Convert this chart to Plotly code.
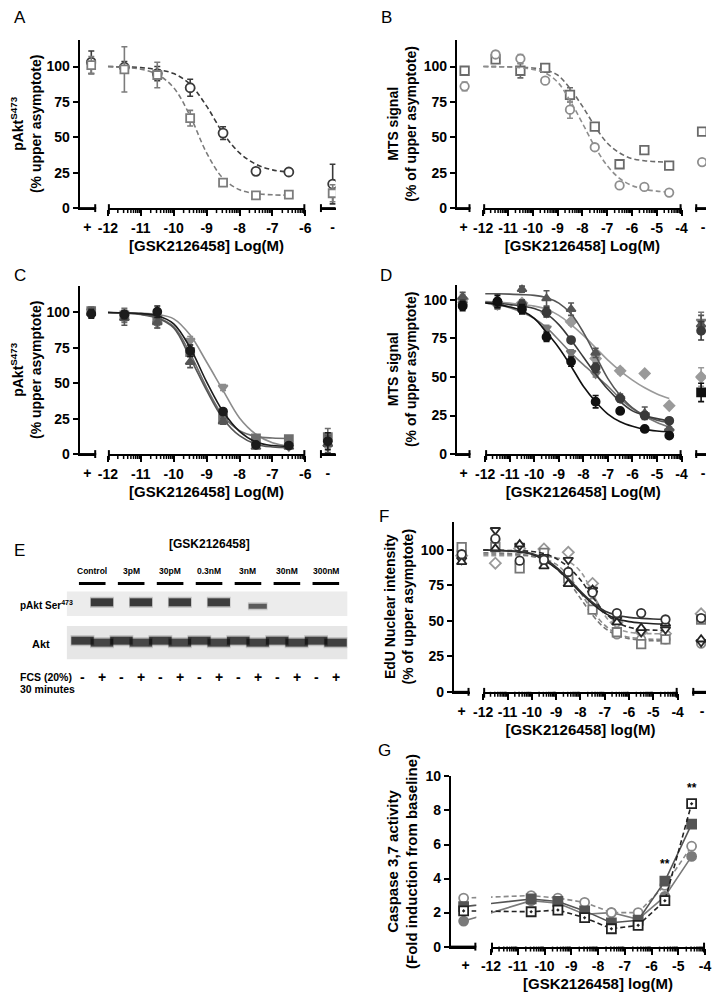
import math
import plotly.graph_objects as go

# the page adds an 8px body margin, so the figure is 704x984 inside a 720x1000 window
OFF = 8
FW, FH = 704, 984
FONT = "Liberation Sans, Arial, Helvetica, sans-serif"

# ---------------- data ----------------
# A : pAkt S473, two conditions
A_DOSE = [-11.5, -10.5, -9.5, -8.5, -7.5, -6.5]
A_CIRC = [99.5, 95, 85, 53, 26, 25.5]
A_CIRC_ERR = [4, 5, 6, 4.5, 1.5, 1]
A_CIRC_CTRL = [103, 17]          # "+" and "-" controls
A_CIRC_CTRL_ERR = [8, 14]
A_SQ = [98, 94, 63.5, 18, 9, 9.5]
A_SQ_ERR = [16, 9, 5.5, 1.5, 1, 1]
A_SQ_CTRL = [101, 10.5]
A_SQ_CTRL_ERR = [6, 6]
A_FIT_X = [-12, -11.5, -11, -10.5, -10, -9.5, -9, -8.5, -8, -7.5, -7, -6.5]
A_CIRC_FIT = [100, 99.7, 99.2, 97.8, 95, 87.5, 72, 53, 39, 31, 27, 25.5]
A_SQ_FIT = [100, 99.4, 98.1, 94.5, 85, 65, 39, 21, 13, 10.3, 9.4, 9.1]

# B : MTS signal, two conditions
B_DOSE = [-11.5, -10.5, -9.5, -8.5, -7.5, -6.5, -5.5, -4.5]
B_SQ = [105, 97, 99, 80, 57.5, 31, 41, 30]
B_SQ_ERR = [2, 5, 1, 5, 2, 1, 1, 1]
B_SQ_CTRL = [97, 54]
B_CIRC = [108.5, 105.5, 90, 69.5, 43, 16, 15, 11]
B_CIRC_ERR = [2, 3, 1, 6, 2, 1, 1, 1]
B_CIRC_CTRL = [86, 32.5]
B_CIRC_CTRL_ERR = [3, 1]
LONG_FIT_X = [-12, -11.5, -11, -10.5, -10, -9.5, -9, -8.5, -8, -7.5, -7, -6.5,
              -6, -5.5, -5, -4.5]
B_SQ_FIT = [100, 99.9, 99.8, 99.6, 99, 97.5, 94, 84.5, 72, 58, 46, 39, 35, 33.5, 32.8, 32.5]
B_CIRC_FIT = [100, 99.9, 99.7, 99.2, 98, 95.5, 89, 76, 60, 43.5, 30, 21, 16, 13.4, 12, 11.3]

# C : pAkt S473, four lines
C_DOSE = [-11.5, -10.5, -9.5, -8.5, -7.5, -6.5]
C1 = [98.5, 100.5, 73, 30, 6.5, 6]
C1_ERR = [3, 4, 4, 2, 1.5, 1]
C1_CTRL = [99, 9]
C2 = [98, 95, 72, 25, 11, 10.5]
C2_ERR = [5, 4, 3, 2, 1, 1]
C2_CTRL = [101, 12]
C3 = [96, 93, 65, 23, 5, 5]
C3_ERR = [5, 4, 4, 2, 1, 1]
C3_CTRL = [100, 7]
C4 = [97, 92, 80, 47, 7, 5]
C4_ERR = [3, 3, 3, 2, 1, 1]
C4_CTRL = [101, 5]
C_CTRL_ERR = [3, 6]
C1_FIT = [100, 99.7, 99.2, 97.7, 92, 75, 51, 30, 16, 8.5, 6, 5.5]
C2_FIT = [100, 99.6, 98.8, 96.5, 90, 71, 47, 27, 16.5, 12.5, 11.3, 11]
C3_FIT = [100, 99.5, 98.5, 96, 89, 68, 45, 25, 13, 7, 5, 4.5]
C4_FIT = [100, 99.8, 99.5, 98.5, 95.5, 84, 65, 45, 25.5, 14, 8, 5.8]

# D : MTS signal, five lines
D_DOSE = B_DOSE
D1 = [99, 94, 76, 60, 34, 28, 16.3, 12]
D1_ERR = [4, 3, 3, 3, 4, 1, 1, 1]
D1_CTRL = [96, 40]
D2 = [98, 97, 92, 74, 56, 36, 25, 21.6]
D2_ERR = [3, 3, 3, 2, 3, 2, 2, 1]
D2_CTRL = [97, 80]
D3 = [100, 107, 101, 94, 65.7, 37, 26.5, 16.5]
D3_ERR = [4, 2, 5, 4, 3, 2, 4, 1]
D3_CTRL = [102, 84]
D4 = [97, 98, 92, 85.8, 62, 54, 52.3, 31.4]
D4_ERR = [2, 2, 3, 2, 2, 2, 0, 0]
D4_CTRL = [100.6, 50]
D5 = [97, 95, 81.6, 65.7, 52, 36, 25.4, 14.8]
D5_ERR = [3, 3, 2, 2, 2, 2, 2, 1]
D5_CTRL = [97.5, 86]
D_CTRL_ERR = [3, 6]
D1_FIT = [98, 97, 95.5, 93, 88, 79, 69, 57, 44, 34, 26, 21, 18, 16, 15, 14.5]
D2_FIT = [98.5, 98, 97, 96, 94.5, 91, 84, 74, 63, 52, 42, 34, 28, 25, 23, 21.5]
D3_FIT = [104, 104, 103.8, 103.5, 103, 101.5, 98, 91, 79, 64, 49, 38, 30, 25, 22, 20.5]
D4_FIT = [99, 98.7, 98, 97, 96, 94, 90, 84, 77, 69, 61, 54, 48, 43, 39, 36]
D5_FIT = [98, 97, 95, 92, 88, 82, 74, 65.5, 58, 51, 44, 36, 29.5, 24.5, 20.5, 17.5]

# E : western blot
E_CONC = ["Control", "3pM", "30pM", "0.3nM", "3nM", "30nM", "300nM"]
E_FCS = ["-", "+", "-", "+", "-", "+", "-", "+", "-", "+", "-", "+", "-", "+"]
E_PAKT = [0, 1, 0, 1, 0, 0.98, 0, 0.95, 0, 0.7, 0, 0, 0, 0]
E_AKT = [0.95, 0.88, 0.95, 0.85, 0.92, 0.85, 0.92, 0.88, 0.9, 0.9, 0.9, 0.9, 0.9, 0.92]

# F : EdU nuclear intensity, six lines
F_DOSE = B_DOSE
F1 = [108, 92.5, 93, 84.5, 70, 55.5, 55.5, 51]
F1_CTRL = [97, 52]
F2 = [101, 104, 88.5, 76, 72, 49, 45, 48]
F2_CTRL = [91.5, 37]
F3 = [114, 103, 95, 93, 72, 51, 42, 44]
F3_CTRL = [93, 35]
F4 = [102, 87, 98, 80, 58, 42, 33.6, 37]
F4_CTRL = [102, 51]
F5 = [90.7, 101, 100.7, 98.4, 76.4, 49, 42, 41]
F5_CTRL = [96, 55]
F6 = [107, 91, 92, 80, 63, 40.5, 37, 37]
F6_CTRL = [99, 34]
F1_FIT = [100, 99.8, 99.5, 99, 97.5, 94, 88, 80, 71, 63, 57, 54, 52.5, 51.8, 51.4, 51.2]
F2_FIT = [100, 99.7, 99.3, 98.5, 97, 93, 87, 79, 70, 62, 55.5, 51.5, 49.5, 48.5, 48, 47.8]
F3_FIT = [100, 99.9, 99.7, 99.5, 99, 97.5, 94, 88, 79, 67, 56, 49, 45.5, 44, 43.5, 43.2]
F4_FIT = [98, 97.9, 97.6, 97, 95.5, 93, 87, 78, 66, 54, 45, 40, 37.5, 36.5, 36, 36]
F5_FIT = [96, 96, 96, 96, 96, 95.5, 94.5, 92, 85, 70, 54, 45, 42, 41.2, 41, 41]
F6_FIT = [97, 96.9, 96.8, 96.5, 96, 94, 90, 82, 70, 57, 47, 41, 38.5, 37.5, 37, 37]

# G : caspase 3/7 activity
G_DOSE = [-10.5, -9.5, -8.5, -7.5, -6.5, -5.5, -4.5]
G_OPEN_CIRC = [3.0, 2.85, 2.6, 2.0, 2.0, 3.6, 5.9]
G_FILL_CIRC = [2.7, 2.55, 1.9, 2.0, 1.6, 2.95, 5.3]
G_FILL_SQ = [2.8, 2.65, 2.1, 1.4, 1.55, 3.85, 7.2]
G_OPEN_SQ = [2.05, 2.15, 1.7, 1.05, 1.25, 2.7, 8.4]
G_CTRL = [2.85, 1.5, 2.35, 2.1]   # "+" control for the four series above
G_SIG_X = [-5.5, -4.5]
G_SIG_Y = [4.85, 9.3]
G_SIG_TXT = ["**", "**"]

# ---------------- figure helpers ----------------
fig = go.Figure()
layout = dict(width=FW, height=FH, margin=dict(l=0, r=0, t=0, b=0),
              paper_bgcolor="white", plot_bgcolor="rgba(0,0,0,0)", showlegend=False)
annotations = []
shapes = []
counter = {"x": 0, "y": 0}
TICK_FONT = dict(family=FONT, size=14, color="black", weight="bold")
LOG_MINOR = [math.log10(k) for k in range(2, 10)]


def fx(px):   # page pixel -> paper x
    return min(max((px - OFF) / FW, 0), 1)


def fy(py):   # page pixel -> paper y
    return min(max(1 - (py - OFF) / FH, 0), 1)


def new_id(kind):
    counter[kind] += 1
    return counter[kind]


def axkey(kind, n):
    return kind + "axis" + ("" if n == 1 else str(n))


def xstyle(**kw):
    d = dict(showline=True, linecolor="black", linewidth=2, ticks="outside", ticklen=5,
             tickwidth=2, tickcolor="black", tickfont=TICK_FONT, showgrid=False,
             zeroline=False, fixedrange=True)
    d.update(kw)
    return d


def seg_line(px0, px1, py0, py1, width):
    shapes.append(dict(type="line", xref="paper", yref="paper", x0=fx(px0), x1=fx(px1),
                       y0=fy(py0), y1=fy(py1), line=dict(color="black", width=width)))


def make_panel(geo, yticks, ytitle, xtitle, ytitle_size=14):
    yid = new_id("y")
    m0, m1 = geo["main"]
    lo, hi = geo["range"]
    ppu = (m1 - m0) / (hi - lo)
    ytop, ybot = geo["y"]

    def u(p):
        return lo + (p - m0) / ppu

    P = {"y": "y%d" % yid}
    # "+" segment (line and end tick drawn as shapes)
    xp = new_id("x")
    p0, p1 = geo["plus"]
    layout[axkey("x", xp)] = xstyle(
        domain=[fx(p0), fx(p1)], range=[u(p0), u(p1)], anchor="y%d" % yid,
        tickvals=[u(geo["plus_lab"])], ticktext=["+"], tickcolor="rgba(0,0,0,0)")
    seg_line(p0, p1, ybot, ybot, 2)
    seg_line(p1 - 1, p1 - 1, ybot - 4, ybot + 4, 2)
    P["plus"] = "x%d" % xp
    P["plus_x"] = u(geo["plus_dat"])
    # main log segment, minor log ticks drawn as shapes
    xm = new_id("x")
    layout[axkey("x", xm)] = xstyle(
        domain=[fx(m0), fx(m1)], range=[lo - 1e-3, hi + 1e-3], anchor="y%d" % yid,
        tickvals=list(range(lo, hi + 1)), ticktext=["%d" % v for v in range(lo, hi + 1)],
        ticklen=6,
        title=dict(text=xtitle, font=dict(family=FONT, size=15, color="black", weight="bold"),
                   standoff=6))
    for n in range(lo, hi):
        for l in LOG_MINOR:
            xpix = m0 + (n + l - lo) * ppu
            seg_line(xpix, xpix, ybot, ybot + 5, 1.5)
    seg_line(m0 + 1, m0 + 1, ybot - 4, ybot + 6, 2)
    seg_line(m1 - 1, m1 - 1, ybot - 4, ybot + 6, 2)
    P["main"] = "x%d" % xm
    # "-" segment, tick at its left end
    if "minus" in geo:
        xn = new_id("x")
        n0, n1 = geo["minus"]
        n1 = min(n1, OFF + FW)
        layout[axkey("x", xn)] = xstyle(
            domain=[fx(n0), fx(n1)], range=[u(n0), u(n1)], anchor="y%d" % yid,
            tickvals=[u(geo["minus_lab"])], ticktext=["-"], tickcolor="rgba(0,0,0,0)")
        seg_line(n0, n1, ybot, ybot, 2)
        seg_line(n0 + 1, n0 + 1, ybot - 4, ybot + 4, 2)
        P["minus"] = "x%d" % xn
        P["minus_x"] = u(geo["minus_dat"])
    layout[axkey("y", yid)] = dict(
        domain=[fy(ybot), fy(ytop)], range=[0, geo["ymax"]], anchor="x%d" % xp,
        showline=True, linecolor="black", linewidth=2, ticks="outside", ticklen=5,
        tickwidth=2, tickcolor="black", tickvals=yticks, tickfont=TICK_FONT,
        showgrid=False, zeroline=False, fixedrange=True,
        title=dict(text=ytitle, font=dict(family=FONT, size=ytitle_size, color="black",
                                          weight="bold"), standoff=4))
    annotations.append(dict(text=geo["letter"], x=fx(geo["lpos"][0]), y=fy(geo["lpos"][1]),
                            xref="paper", yref="paper", showarrow=False, xanchor="center",
                            yanchor="middle", font=dict(family=FONT, size=17, color="black")))
    return P


def marker(sty):
    return dict(symbol=sty["sym"], size=sty.get("size", 8),
                color=sty["col"] if sty.get("filled") else "white",
                line=dict(color=sty["col"], width=sty.get("lw", 1.8)))


def add_fit(P, fxs, fys, sty):
    fig.add_trace(go.Scatter(x=fxs, y=fys, mode="lines", xaxis=P["main"], yaxis=P["y"],
                             line=dict(color=sty.get("lcol", sty["col"]), width=1.6,
                                       dash=sty.get("dash", "solid"), shape="spline"),
                             hoverinfo="skip"))


def add_pts(P, seg, x, y, err, sty, sym=None):
    m = marker(sty)
    if sym:
        m["symbol"] = sym
    ey = dict(type="data", array=err, color=sty["col"], thickness=1.6, width=3,
              visible=err is not None)
    fig.add_trace(go.Scatter(x=x, y=y, mode="markers", xaxis=P[seg], yaxis=P["y"],
                             marker=m, error_y=ey, hoverinfo="skip"))


def add_series(P, dose, vals, err, ctrl, ctrl_err, fit_x, fit, sty):
    if fit is not None:
        add_fit(P, fit_x, fit, sty)
    add_pts(P, "main", dose, vals, err, sty)
    add_pts(P, "plus", [P["plus_x"]], [ctrl[0]],
            None if ctrl_err is None else [ctrl_err[0]], sty)
    if "minus" in P:
        add_pts(P, "minus", [P["minus_x"]], [ctrl[1]],
                None if ctrl_err is None else [ctrl_err[1]], sty, sty.get("msym"))


Y100 = [0, 25, 50, 75, 100]
T_PAKT = "pAkt<sup>S473</sup><br>(% upper asymptote)"
T_MTS = "MTS signal<br>(% of upper asymptote)"
X_LOG = "[GSK2126458] Log(M)"

# ---------------- A ----------------
PA = make_panel(dict(letter="A", lpos=(10, 10), y=(32, 203.3), ymax=119,
                     plus=(71, 88), plus_lab=79, plus_dat=83,
                     main=(100, 302), range=(-12, -6),
                     minus=(317, 333), minus_lab=330, minus_dat=330),
                Y100, T_PAKT, X_LOG)
add_series(PA, A_DOSE, A_CIRC, A_CIRC_ERR, A_CIRC_CTRL, A_CIRC_CTRL_ERR, A_FIT_X, A_CIRC_FIT,
           dict(sym="circle", col="#3a3a3a", size=9, dash="5px,3px"))
add_series(PA, A_DOSE, A_SQ, A_SQ_ERR, A_SQ_CTRL, A_SQ_CTRL_ERR, A_FIT_X, A_SQ_FIT,
           dict(sym="square", col="#7c7c7c", size=8, dash="5px,3px"))

# ---------------- B ----------------
PB = make_panel(dict(letter="B", lpos=(385, 10), y=(32, 203.3), ymax=119,
                     plus=(457, 471), plus_lab=464, plus_dat=465,
                     main=(484, 687), range=(-12, -4),
                     minus=(701, 722), minus_lab=709, minus_dat=708),
                Y100, T_MTS, X_LOG)
add_series(PB, B_DOSE, B_SQ, B_SQ_ERR, B_SQ_CTRL, None, LONG_FIT_X, B_SQ_FIT,
           dict(sym="square", col="#6a6a6a", size=8.5, dash="5px,3px"))
add_series(PB, B_DOSE, B_CIRC, B_CIRC_ERR, B_CIRC_CTRL, B_CIRC_CTRL_ERR, LONG_FIT_X, B_CIRC_FIT,
           dict(sym="circle", col="#8e8e8e", size=8.5, dash="5px,3px"))

# ---------------- C ----------------
PC = make_panel(dict(letter="C", lpos=(10, 272), y=(282, 453.3), ymax=119,
                     plus=(71, 88), plus_lab=79, plus_dat=83,
                     main=(100, 302), range=(-12, -6),
                     minus=(317, 333), minus_lab=325, minus_dat=325),
                Y100, T_PAKT, X_LOG)
for vals, err, ctrl, fit, sty in [
        (C4, C4_ERR, C4_CTRL, C4_FIT, dict(sym="triangle-down", col="#8c8c8c", filled=True)),
        (C2, C2_ERR, C2_CTRL, C2_FIT, dict(sym="square", col="#6e6e6e", filled=True)),
        (C3, C3_ERR, C3_CTRL, C3_FIT, dict(sym="triangle-up", col="#555555", filled=True)),
        (C1, C1_ERR, C1_CTRL, C1_FIT, dict(sym="circle", col="#1c1c1c", filled=True))]:
    add_series(PC, C_DOSE, vals, err, ctrl, C_CTRL_ERR, A_FIT_X, fit, sty)

# ---------------- D ----------------
PD = make_panel(dict(letter="D", lpos=(385, 272), y=(281, 453.3), ymax=110,
                     plus=(457, 471), plus_lab=464, plus_dat=463,
                     main=(486, 687), range=(-12, -4),
                     minus=(701, 722), minus_lab=709, minus_dat=707),
                Y100, T_MTS, X_LOG)
for vals, err, ctrl, fit, sty in [
        (D4, D4_ERR, D4_CTRL, D4_FIT, dict(sym="diamond", col="#9a9a9a", filled=True)),
        (D5, D5_ERR, D5_CTRL, D5_FIT, dict(sym="triangle-down", col="#777777", filled=True)),
        (D3, D3_ERR, D3_CTRL, D3_FIT, dict(sym="triangle-up", col="#555555", filled=True)),
        (D2, D2_ERR, D2_CTRL, D2_FIT, dict(sym="circle", col="#3a3a3a", filled=True)),
        (D1, D1_ERR, D1_CTRL, D1_FIT, dict(sym="circle", col="#111111", filled=True,
                                            msym="square"))]:
    add_series(PD, D_DOSE, vals, err, ctrl, D_CTRL_ERR, LONG_FIT_X, fit, sty)

# ---------------- F ----------------
PF = make_panel(dict(letter="F", lpos=(382, 517), y=(522, 695), ymax=120,
                     plus=(454, 470), plus_lab=462, plus_dat=462,
                     main=(484, 683), range=(-12, -4),
                     minus=(698, 722), minus_lab=708, minus_dat=707),
                Y100, "EdU Nuclear intensity<br>(% of upper asymptote)",
                "[GSK2126458] log(M)")
for vals, ctrl, fit, sty in [
        (F5, F5_CTRL, F5_FIT, dict(sym="diamond", col="#9a9a9a", dash="5px,3px")),
        (F6, F6_CTRL, F6_FIT, dict(sym="circle", col="#8a8a8a", dash="5px,3px")),
        (F4, F4_CTRL, F4_FIT, dict(sym="square", col="#777777", dash="5px,3px")),
        (F3, F3_CTRL, F3_FIT, dict(sym="triangle-down", col="#2a2a2a", dash="5px,3px")),
        (F2, F2_CTRL, F2_FIT, dict(sym="triangle-up", col="#222222")),
        (F1, F1_CTRL, F1_FIT, dict(sym="circle", col="#333333"))]:
    add_series(PF, F_DOSE, vals, None, ctrl, None, LONG_FIT_X, fit, dict(sty, size=8.5))

# ---------------- G ----------------
PG = make_panel(dict(letter="G", lpos=(383, 755), y=(781, 954), ymax=10,
                     plus=(451, 477), plus_lab=466, plus_dat=464,
                     main=(492, 711), range=(-12, -4)),
                [0, 2, 4, 6, 8, 10], "Caspase 3,7 activity<br>(Fold induction from baseline)",
                "[GSK2126458] log(M)", ytitle_size=15)
for vals, ctrl, sty in [
        (G_FILL_CIRC, G_CTRL[1], dict(sym="circle", col="#7a7a7a", filled=True)),
        (G_OPEN_CIRC, G_CTRL[0], dict(sym="circle", col="#8a8a8a", dash="5px,3px")),
        (G_FILL_SQ, G_CTRL[2], dict(sym="square", col="#555555", filled=True)),
        (G_OPEN_SQ, G_CTRL[3], dict(sym="square-dot", col="#222222", dash="5px,3px"))]:
    xs = [PG["plus_x"]] + G_DOSE
    ys = [ctrl] + vals
    for seg in ("plus", "main"):
        fig.add_trace(go.Scatter(x=xs, y=ys, mode="lines+markers", xaxis=PG[seg], yaxis=PG["y"],
                                 line=dict(color=sty["col"], width=1.6,
                                           dash=sty.get("dash", "solid")),
                                 marker=marker(dict(sty, size=9)), hoverinfo="skip"))
for sx, sy, st in zip(G_SIG_X, G_SIG_Y, G_SIG_TXT):
    annotations.append(dict(text=st, x=sx, y=sy, xref=PG["main"], yref=PG["y"], showarrow=False,
                            font=dict(family=FONT, size=12, color="black", weight="bold")))

# ---------------- E : blot ----------------
LANE0, LANE_STEP = 74, 19.92   # page x of lane 1 and lane spacing
ex = new_id("x")
ey = new_id("y")
layout[axkey("x", ex)] = dict(domain=[0, fx(360)],
                              range=[1 + (OFF - LANE0) / LANE_STEP, 1 + (360 - LANE0) / LANE_STEP],
                              visible=False, fixedrange=True, anchor="y%d" % ey)
layout[axkey("y", ey)] = dict(domain=[fy(700), fy(535)], range=[700, 535],
                              visible=False, fixedrange=True, anchor="x%d" % ex)
lanes = list(range(1, len(E_FCS) + 1))
EX, EY = "x%d" % ex, "y%d" % ey

for y0, y1, c in [(593, 618, "#ececec"), (628, 662, "#e6e6e6")]:
    shapes.append(dict(type="rect", xref="paper", yref="paper", x0=fx(58), x1=fx(345),
                       y0=fy(y1), y1=fy(y0), fillcolor=c, line=dict(width=0), layer="below"))


def bands(xs, ys, strengths, size, width):
    # soft halo + dark core for each band
    for size_add, w_add, alpha in [(1, 3, 0.25), (0, 0, 1.0)]:
        fig.add_trace(go.Scatter(
            x=xs, y=ys, mode="markers", xaxis=EX, yaxis=EY, hoverinfo="skip",
            marker=dict(symbol="line-ew",
                        size=[(size if s > 0.8 else size - 3) + size_add for s in strengths],
                        line=dict(width=[(width if s > 0.8 else width - 3) + w_add
                                         for s in strengths],
                                  color=["rgba(%d,%d,%d,%.2f)" % ((1 - s) * 150, (1 - s) * 150,
                                                                  (1 - s) * 150, alpha)
                                         for s in strengths]))))


pl = [l for l, v in zip(lanes, E_PAKT) if v > 0]
pv = [v for v in E_PAKT if v > 0]
bands(pl, [604 if v > 0.8 else 608 for v in pv], pv, 16, 8)
bands(lanes, [643 if s == "-" else 645 for s in E_FCS], E_AKT, 16, 8)

pair_x = [(lanes[2 * i] + lanes[2 * i + 1]) / 2 for i in range(len(E_CONC))]
fig.add_trace(go.Scatter(
    x=pair_x, y=[585] * len(pair_x), mode="markers", xaxis=EX, yaxis=EY,
    marker=dict(symbol="line-ew", size=19, line=dict(width=3, color="black")),
    hoverinfo="skip"))
for c, px in zip(E_CONC, pair_x):
    annotations.append(dict(text=c, x=px, y=572, xref=EX, yref=EY, showarrow=False,
                            font=dict(family=FONT, size=8.5, color="black", weight="bold")))
for s, l in zip(E_FCS, lanes):
    annotations.append(dict(text=s, x=l, y=680, xref=EX, yref=EY, showarrow=False,
                            font=dict(family=FONT, size=14, color="black", weight="bold")))


def pann(text, x, y, size, xanchor="center", weight="bold"):
    annotations.append(dict(text=text, x=fx(x), y=fy(y), xref="paper", yref="paper",
                            showarrow=False, xanchor=xanchor, yanchor="middle",
                            font=dict(family=FONT, size=size, color="black", weight=weight)))


pann("E", 10, 551, 17, weight="normal")
pann("[GSK2126458]", 204, 545, 12)
pann("pAkt Ser<sup>473</sup>", 8, 607, 10, xanchor="left")
pann("Akt", 32, 646, 11)
pann("FCS (20%)", 8, 680, 10.5, xanchor="left")
pann("30 minutes", 8, 692, 10.5, xanchor="left")

layout["annotations"] = annotations
layout["shapes"] = shapes
fig.update_layout(**layout)
fig.write_html("out.html", config={"displayModeBar": False})
